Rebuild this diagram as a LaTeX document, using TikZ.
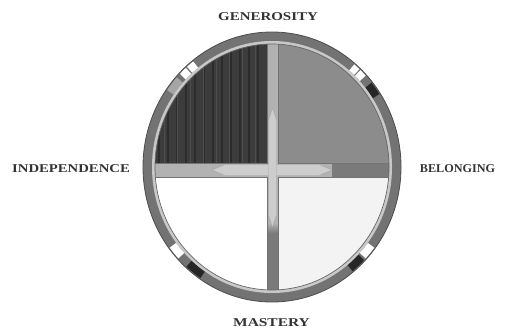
\documentclass[tikz,border=0pt]{standalone}
\usepackage{fontspec}
\setmainfont{Liberation Serif}
\usepackage{xcolor}
\usetikzlibrary{positioning}
\definecolor{cRing}{RGB}{115,115,115}
\definecolor{cRingLt}{RGB}{165,165,165}
\definecolor{cBand}{RGB}{200,200,200}
\definecolor{cDark}{RGB}{60,60,60}
\definecolor{cStreak}{RGB}{44,44,44}
\definecolor{cStreakLt}{RGB}{78,78,78}
\definecolor{cMid}{RGB}{140,140,140}
\definecolor{cPale}{RGB}{243,243,243}
\definecolor{cBar}{RGB}{178,178,178}
\definecolor{cBarLt}{RGB}{205,205,205}
\definecolor{cBarDk}{RGB}{122,122,122}

\begin{document}
\begin{tikzpicture}[x=1bp,y=1bp,
  lbl/.style={font=\bfseries\fontsize{12}{14}\selectfont,text=black!80,inner sep=0pt}]
  \useasboundingbox (0,0) rectangle (517,331);
  \begin{scope}[shift={(272,164)}]
    % outer band
    \fill[cRing] (0,0) ellipse [x radius=129,y radius=135];
    \draw[black!70,line width=0.8] (0,0) ellipse [x radius=129,y radius=135];
    % marks on the band
    \foreach \a/\b/\c in {33/39/black!85,43/46.3/white,46.9/50/white,
        128/131.6/white,132.3/136/white,138/145/cRingLt,
        217/223/white,228/236/black!85,309/316/black!85,317/323/white}
      \fill[\c] (\a:128 and 134) arc[start angle=\a,end angle=\b,x radius=128,y radius=134]
        -- (\b:120 and 126) arc[start angle=\b,end angle=\a,x radius=120,y radius=126] -- cycle;
    % light inner band
    \fill[cBand] (0,0) ellipse [x radius=120,y radius=126];
    \begin{scope}
      \clip (0,0) ellipse [x radius=117,y radius=123];
      % quadrants
      \fill[cDark] (-130,-3) rectangle (0.5,140);
      \fill[cMid] (0.5,-3) rectangle (130,140);
      \fill[white] (-130,-140) rectangle (0.5,-3);
      \fill[cPale] (0.5,-140) rectangle (130,-3);
      \foreach \x in {-113,-104,...,-6}
        \draw[cStreak,line width=1.4] (\x,-3) -- (\x,130);
      \foreach \x in {-108,-95,...,-9}
        \draw[cStreakLt,line width=0.9] (\x,-3) -- (\x,130);
      % the cross
      \fill[cBar] (-5,-140) rectangle (6,140);
      \fill[cBar] (-130,-10) rectangle (130,4);
      \fill[cBarDk] (-5,-140) rectangle (6,-66);
      \shade[top color=cBar,bottom color=cBarDk] (-5,-66) rectangle (6,-56);
      \fill[cBarDk] (60,-10) rectangle (130,4);
      \draw[black!55,line width=0.5] (-5,-140) -- (-5,-10) -- (-130,-10);
      \draw[black!55,line width=0.5] (6,-140) -- (6,-10) -- (130,-10);
      \draw[black!55,line width=0.5] (-5,140) -- (-5,4) -- (-130,4);
      \draw[black!55,line width=0.5] (6,140) -- (6,4) -- (130,4);
      \fill[cBarLt,draw=black!35,line width=0.4]
        (-60,-3) -- (-47,2.5) -- (47,2.5) -- (60,-3) -- (47,-8.5) -- (-47,-8.5) -- cycle;
      \fill[cBarLt,draw=black!35,line width=0.4]
        (0.5,59) -- (4.5,47) -- (4.5,-48) -- (0.5,-60) -- (-3.5,-48) -- (-3.5,47) -- cycle;
    \end{scope}
    \draw[black!60,line width=0.7] (0,0) ellipse [x radius=117,y radius=123];
  \end{scope}
  % labels
  \node[lbl,xscale=1.25] (gen) at (268,314) {GENEROSITY};
  \node[lbl,xscale=1.29] (mas) at (271.5,8) {MASTERY};
  \node[lbl,xscale=1.23] (ind) at (71,162) {INDEPENDENCE};
  \node[lbl,xscale=1.02] (bel) at (457.5,162) {BELONGING};
\end{tikzpicture}
\end{document}
